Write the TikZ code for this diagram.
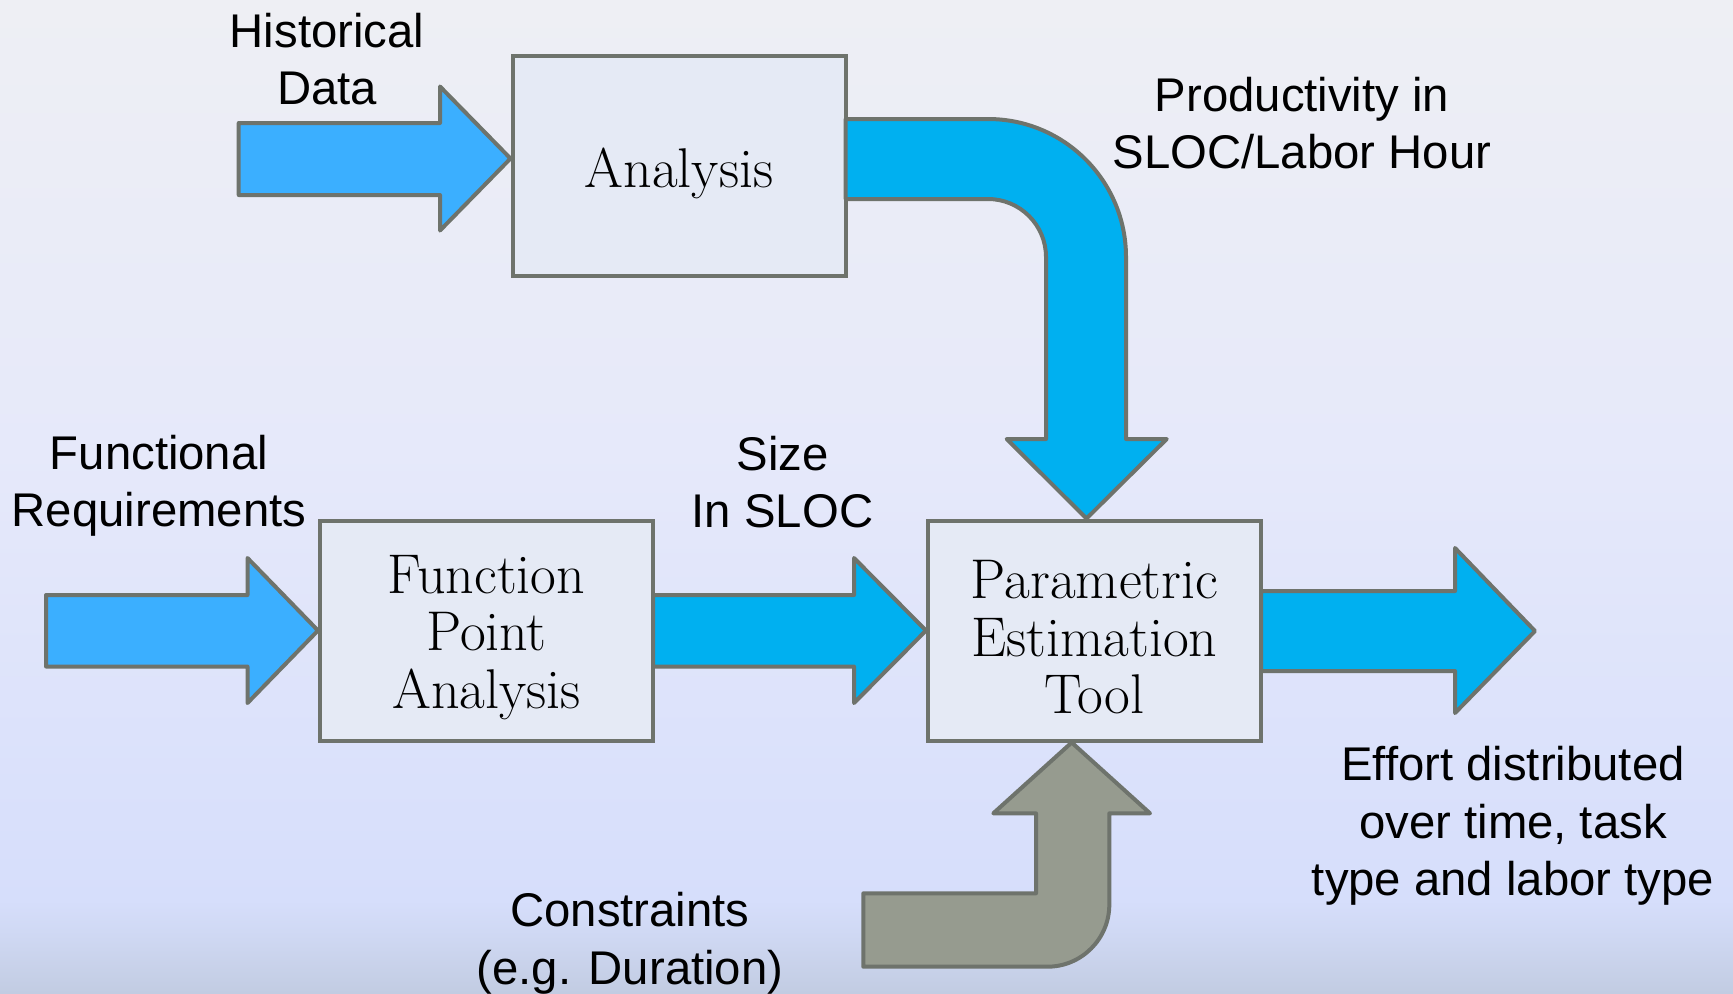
\documentclass[tikz,border=0pt]{standalone}
\usepackage{fontspec}
\newfontfamily\labelfont{Liberation Sans}
\usetikzlibrary{calc}
\definecolor{boxfill}{HTML}{E5EAF5}
\definecolor{edgegray}{HTML}{6E736C}
\definecolor{lightblue}{HTML}{3BAFFF}
\definecolor{cyanblue}{HTML}{00B0F0}
\definecolor{graybody}{HTML}{969B8F}
\definecolor{bgA}{HTML}{EEEFF4}
\definecolor{bgB}{HTML}{E6E9FA}
\definecolor{bgC}{HTML}{D6DEFB}
\definecolor{bgD}{HTML}{CFD8F3}
\definecolor{bgE}{HTML}{C2CCE2}
\begin{document}
\begin{tikzpicture}[x=0.5pt,y=-0.5pt,
  procbox/.style={draw=edgegray, line width=2pt, fill=boxfill, minimum width=166.5pt, minimum height=110pt, inner sep=0pt},
  boxtext/.style={align=center, inner sep=0pt, font=\fontsize{28}{28.75}\selectfont},
  lbl/.style={align=center, font=\labelfont\fontsize{23.65}{28.75}\selectfont, inner sep=0pt},
  blockarrow/.style={draw=edgegray, line width=2pt, line join=round}]
\useasboundingbox (0,0) rectangle (1733,993);
% background
\shade[top color=bgA, bottom color=bgB] (0,0) rectangle (1733,450.5);
\shade[top color=bgB, bottom color=bgC] (0,450) rectangle (1733,900.5);
\shade[top color=bgC, bottom color=bgD] (0,900) rectangle (1733,935.5);
\shade[top color=bgD, bottom color=bgE] (0,935) rectangle (1733,993);
% boxes
\node[procbox] (ana) at (679,166) {};
\node[procbox] (fpa) at (486.5,630.5) {};
\node[procbox] (pet) at (1094.5,630.5) {};
\node[boxtext] (anatext) at ($(ana.center)+(0,7)$) {Analysis};
\node[boxtext] (fpatext) at ($(fpa.center)+(0,7)$) {Function\\Point\\Analysis};
\node[boxtext] (pettext) at ($(pet.center)+(0,7)$) {Parametric\\Estimation\\Tool};
% labels
\node[lbl] (hist) at (327,59) {Historical\\Data};
\node[lbl] (prod) at (1302,123) {Productivity in\\SLOC/Labor Hour};
\node[lbl] (func) at (159,486) {Functional\\Requirements};
\node[lbl] (size) at (782.5,482) {Size\\In SLOC};
\node[lbl] (effort) at (1513,826) {Effort distributed\\over time, task\\type and labor type};
\node[lbl] (cons) at (630,943) {Constraints\\(e.g. Duration)};
% arrows
\draw[blockarrow, fill=lightblue] (238.7,123) -- (440,123) -- (440,86.5) -- ($(ana.west)+(0,-7.5)$) -- (440,230.5) -- (440,195) -- (238.7,195) -- cycle;
\draw[blockarrow, fill=cyanblue] (845.7,119) -- (988,119) .. controls (1064.2,119) and (1126,180.8) .. (1126,257) -- (1126,439) -- (1166.7,439) -- ($(pet.north)+(-8,0)$) -- (1006.7,439) -- (1046,439) -- (1046,257) .. controls (1046,225) and (1020,199) .. (988,199) -- (845.7,199) -- cycle;
\draw[blockarrow, fill=lightblue] (46,595) -- (247.5,595) -- (247.5,558) -- (fpa.west) -- (247.5,703) -- (247.5,666.5) -- (46,666.5) -- cycle;
\draw[blockarrow, fill=cyanblue] (653,595) -- (854,595) -- (854,558) -- (pet.west) -- (854,703) -- (854,666.5) -- (653,666.5) -- cycle;
\draw[blockarrow, fill=cyanblue] (1261,591) -- (1455,591) -- (1455,548) -- (1535,631) -- (1455,713) -- (1455,671) -- (1261,671) -- cycle;
\draw[blockarrow, fill=graybody] ($(pet.south)+(-22.8,0)$) -- (1150,813.3) -- (1109.3,813.3) -- (1109.3,904.7) .. controls (1109.3,938.9) and (1081.5,966.7) .. (1047.3,966.7) -- (863.3,966.7) -- (863.3,893.3) -- (1036,893.3) -- (1036,813.3) -- (993.3,813.3) -- cycle;
\end{tikzpicture}
\end{document}
